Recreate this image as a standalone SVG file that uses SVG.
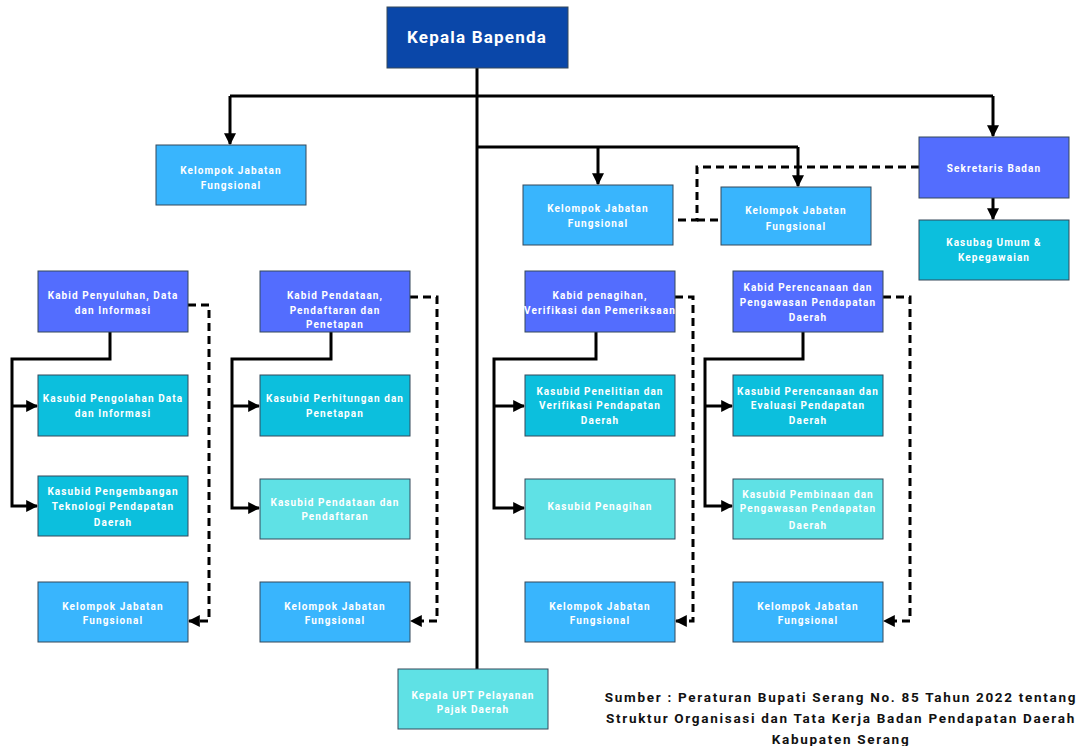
<svg xmlns="http://www.w3.org/2000/svg" width="1081" height="746" viewBox="0 0 1081 746">
<style>
.b{stroke:#34495a;stroke-width:1}
.top{fill:#0a47a9}
.kb{fill:#536dfe}
.ks{fill:#0cbfdd}
.kl{fill:#5fe1e5}
.kj{fill:#39b5fd}
text{font-family:Roboto,"Liberation Sans",sans-serif;font-weight:bold;fill:#fff;text-anchor:middle;dominant-baseline:central}
.t{font-size:10px;letter-spacing:1.1px}
.h{font-size:17px;letter-spacing:1.2px}
.f{fill:#111;font-size:13.5px;letter-spacing:1.7px}
.s{fill:none;stroke:#000;stroke-width:3}
.d{fill:none;stroke:#000;stroke-width:3;stroke-dasharray:8,5}
</style>
<defs>
<marker id="a" viewBox="0 0 10 10" refX="9" refY="5" markerWidth="4" markerHeight="4" orient="auto" markerUnits="strokeWidth">
<path d="M0,0 L10,5 L0,10 z" fill="#000"/>
</marker>
</defs>
<g id="connectors">
<path class="s" d="M477,68 V669"/>
<path class="s" d="M230,96 H993"/>
<path class="s" d="M230,96 V144" marker-end="url(#a)"/>
<path class="s" d="M993,96 V136" marker-end="url(#a)"/>
<path class="s" d="M993,198 V219" marker-end="url(#a)"/>
<path class="s" d="M477,147 H798"/>
<path class="s" d="M598,147 V184" marker-end="url(#a)"/>
<path class="s" d="M798,147 V186" marker-end="url(#a)"/>
<path class="d" d="M919,167 H697 V220 H673"/>
<path class="d" d="M697,220 H721"/>
<path class="s" d="M110,332 V359 H12 V506 H37" marker-end="url(#a)"/>
<path class="s" d="M12,406 H37" marker-end="url(#a)"/>
<path class="s" d="M331,332 V359 H232 V508 H259" marker-end="url(#a)"/>
<path class="s" d="M232,406 H259" marker-end="url(#a)"/>
<path class="s" d="M596,332 V359 H494 V508 H524" marker-end="url(#a)"/>
<path class="s" d="M494,406 H524" marker-end="url(#a)"/>
<path class="s" d="M803,332 V359 H705 V506 H732" marker-end="url(#a)"/>
<path class="s" d="M705,406 H732" marker-end="url(#a)"/>
<path class="d" d="M188,305 H209 V621 H189" marker-end="url(#a)"/>
<path class="d" d="M410,297 H437 V621 H411" marker-end="url(#a)"/>
<path class="d" d="M675,297 H693 V621 H676" marker-end="url(#a)"/>
<path class="d" d="M883,297 H910 V621 H884" marker-end="url(#a)"/>
</g>
<g id="kepala"><rect class="b top" x="387" y="7" width="181" height="61"/><text class="h" x="477" y="37">Kepala Bapenda</text></g>
<g id="kjf-top-left"><rect class="b kj" x="156" y="145" width="150" height="60"/><text class="t" x="231" y="170">Kelompok Jabatan</text><text class="t" x="231" y="185">Fungsional</text></g>
<g id="kjf-top-mid"><rect class="b kj" x="523" y="185" width="150" height="60"/><text class="t" x="598" y="208">Kelompok Jabatan</text><text class="t" x="598" y="223">Fungsional</text></g>
<g id="kjf-top-right"><rect class="b kj" x="721" y="187" width="150" height="58"/><text class="t" x="796" y="210">Kelompok Jabatan</text><text class="t" x="796" y="226">Fungsional</text></g>
<g id="sekretaris"><rect class="b kb" x="919" y="137" width="150" height="61"/><text class="t" x="994" y="168">Sekretaris Badan</text></g>
<g id="kasubag"><rect class="b ks" x="919" y="220" width="150" height="60"/><text class="t" x="994" y="242">Kasubag Umum &amp;</text><text class="t" x="994" y="257">Kepegawaian</text></g>
<g id="kabid1"><rect class="b kb" x="38" y="271" width="150" height="61"/><text class="t" x="113" y="295">Kabid Penyuluhan, Data</text><text class="t" x="113" y="310">dan Informasi</text></g>
<g id="kabid2"><rect class="b kb" x="260" y="271" width="150" height="61"/><text class="t" x="335" y="295">Kabid Pendataan,</text><text class="t" x="335" y="310">Pendaftaran dan</text><text class="t" x="335" y="324">Penetapan</text></g>
<g id="kabid3"><rect class="b kb" x="525" y="271" width="150" height="61"/><text class="t" x="600" y="295">Kabid penagihan,</text><text class="t" x="600" y="310">Verifikasi dan Pemeriksaan</text></g>
<g id="kabid4"><rect class="b kb" x="733" y="271" width="150" height="61"/><text class="t" x="808" y="287">Kabid Perencanaan dan</text><text class="t" x="808" y="302">Pengawasan Pendapatan</text><text class="t" x="808" y="317">Daerah</text></g>
<g id="ks11"><rect class="b ks" x="38" y="375" width="150" height="61"/><text class="t" x="113" y="398">Kasubid Pengolahan Data</text><text class="t" x="113" y="413">dan Informasi</text></g>
<g id="ks21"><rect class="b ks" x="260" y="375" width="150" height="61"/><text class="t" x="335" y="398">Kasubid Perhitungan dan</text><text class="t" x="335" y="413">Penetapan</text></g>
<g id="ks31"><rect class="b ks" x="525" y="375" width="150" height="61"/><text class="t" x="600" y="391">Kasubid Penelitian dan</text><text class="t" x="600" y="405">Verifikasi Pendapatan</text><text class="t" x="600" y="420">Daerah</text></g>
<g id="ks41"><rect class="b ks" x="733" y="375" width="150" height="61"/><text class="t" x="808" y="391">Kasubid Perencanaan dan</text><text class="t" x="808" y="405">Evaluasi Pendapatan</text><text class="t" x="808" y="420">Daerah</text></g>
<g id="ks12"><rect class="b ks" x="38" y="476" width="150" height="60"/><text class="t" x="113" y="491">Kasubid Pengembangan</text><text class="t" x="113" y="506">Teknologi Pendapatan</text><text class="t" x="113" y="522">Daerah</text></g>
<g id="ks22"><rect class="b kl" x="260" y="479" width="150" height="60"/><text class="t" x="335" y="502">Kasubid Pendataan dan</text><text class="t" x="335" y="516">Pendaftaran</text></g>
<g id="ks32"><rect class="b kl" x="525" y="479" width="150" height="60"/><text class="t" x="600" y="506">Kasubid Penagihan</text></g>
<g id="ks42"><rect class="b kl" x="733" y="479" width="150" height="60"/><text class="t" x="808" y="494">Kasubid Pembinaan dan</text><text class="t" x="808" y="508">Pengawasan Pendapatan</text><text class="t" x="808" y="525">Daerah</text></g>
<g id="kjf1"><rect class="b kj" x="38" y="582" width="150" height="60"/><text class="t" x="113" y="606">Kelompok Jabatan</text><text class="t" x="113" y="620">Fungsional</text></g>
<g id="kjf2"><rect class="b kj" x="260" y="582" width="150" height="60"/><text class="t" x="335" y="606">Kelompok Jabatan</text><text class="t" x="335" y="620">Fungsional</text></g>
<g id="kjf3"><rect class="b kj" x="525" y="582" width="150" height="60"/><text class="t" x="600" y="606">Kelompok Jabatan</text><text class="t" x="600" y="620">Fungsional</text></g>
<g id="kjf4"><rect class="b kj" x="733" y="582" width="150" height="60"/><text class="t" x="808" y="606">Kelompok Jabatan</text><text class="t" x="808" y="620">Fungsional</text></g>
<g id="upt"><rect class="b kl" x="398" y="669" width="150" height="60"/><text class="t" x="473" y="695">Kepala UPT Pelayanan</text><text class="t" x="473" y="709">Pajak Daerah</text></g>
<g id="sumber">
<text class="f" x="841" y="697">Sumber : Peraturan Bupati Serang No. 85 Tahun 2022 tentang</text>
<text class="f" x="841" y="718">Struktur Organisasi dan Tata Kerja Badan Pendapatan Daerah</text>
<text class="f" x="841" y="739">Kabupaten Serang</text>
</g>
</svg>
